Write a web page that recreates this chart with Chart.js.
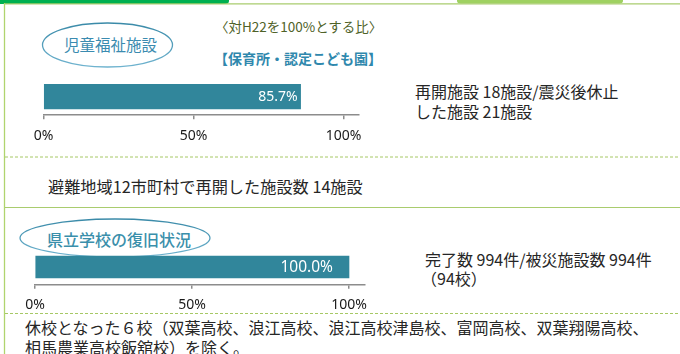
<!DOCTYPE html>
<html lang="ja">
<head>
<meta charset="utf-8">
<title>復旧状況</title>
<script src="https://cdn.jsdelivr.net/npm/chart.js@4/dist/chart.umd.min.js"></script>
<style>
  html, body { margin: 0; padding: 0; background: #ffffff; }
  body { width: 680px; height: 354px; position: relative; overflow: hidden;
         font-family: "Noto Sans CJK JP", "Noto Sans", sans-serif; color: #262626; }
  .t { position: absolute; white-space: nowrap; line-height: 1; }
  svg.frame { position: absolute; left: 0; top: 0; }
  canvas { position: absolute; }
</style>
</head>
<body>

<svg class="frame" width="680" height="354" viewBox="0 0 680 354">
  <defs>
    <linearGradient id="ring" x1="0" y1="0" x2="0" y2="1">
      <stop offset="0" stop-color="#3a8aa8"/>
      <stop offset="1" stop-color="#6fb3cf"/>
    </linearGradient>
  </defs>
  <!-- tabs and frame -->
  <path d="M0 0 H229 V1 Q229 4 225 4 H0 Z" fill="#00b050"/>
  <path d="M457 0 H623 V1 Q623 3.5 619 3.5 H461 Q457 3.5 457 1 Z" fill="#9fd161"/>
  <line x1="4.5" y1="3.8" x2="680" y2="3.8" stroke="#a9cc6e" stroke-width="1.2"/>
  <line x1="4.5" y1="3" x2="4.5" y2="354" stroke="#b0d46e" stroke-width="1.3"/>
  <!-- separators -->
  <line x1="5" y1="157" x2="680" y2="157" stroke="#a6c865" stroke-width="1" stroke-dasharray="3 2"/>
  <line x1="5" y1="207.5" x2="680" y2="207.5" stroke="#a9cc6e" stroke-width="1.2"/>
  <line x1="5" y1="313.5" x2="680" y2="313.5" stroke="#a6c865" stroke-width="1" stroke-dasharray="3 2"/>
  <!-- section badges -->
  <ellipse cx="107.5" cy="45" rx="65" ry="22" fill="none" stroke="url(#ring)" stroke-width="1.3"/>
  <ellipse cx="115" cy="238" rx="95" ry="19" fill="none" stroke="url(#ring)" stroke-width="1.3"/>
</svg>

<div class="t" style="left:64px; top:37px; font-size:15.5px; color:#3a8bb0;">児童福祉施設</div>
<div class="t" style="left:215px; top:20px; font-size:13.5px; color:#4f6228;">〈対H22を100%とする比〉</div>
<div class="t" style="left:214px; top:51px; font-size:14px; color:#2f88ad; font-weight:bold;">【保育所・認定こども園】</div>

<div class="t" style="left:415px; top:83px; font-size:16px; color:#262626;">再開施設 18施設/震災後休止</div>
<div class="t" style="left:415px; top:103px; font-size:16px; color:#262626;">した施設 21施設</div>

<div class="t" style="left:48px; top:178px; font-size:16.2px; color:#262626;">避難地域12市町村で再開した施設数 14施設</div>

<div class="t" style="left:47px; top:231px; font-size:16px; color:#3a8fab; font-weight:500;">県立学校の復旧状況</div>

<div class="t" style="left:425px; top:251px; font-size:16px; color:#262626;">完了数 994件/被災施設数 994件</div>
<div class="t" style="left:421px; top:270px; font-size:16px; color:#262626;">（94校）</div>

<div class="t" style="left:25px; top:319px; font-size:16px; color:#262626;">休校となった６校（双葉高校、浪江高校、浪江高校津島校、富岡高校、双葉翔陽高校、</div>
<div class="t" style="left:25px; top:339px; font-size:16px; color:#262626;">相馬農業高校飯舘校）を除く。</div>

<canvas id="c1" width="400" height="82" style="left:0; top:70px;"></canvas>
<canvas id="c2" width="400" height="80" style="left:0; top:240px;"></canvas>

<script>
// 児童福祉施設（保育所・認定こども園）の再開率
const nurseryLabels = ['保育所・認定こども園'];
const nurseryRates = [85.7];

// 県立学校の復旧率
const schoolLabels = ['県立学校'];
const schoolRates = [100.0];

// 目盛り
const axisTicks = [0, 50, 100];

const barColor = '#31869b';

// 棒の右端内側に値を書くプラグイン
const barValueLabel = {
  id: 'barValueLabel',
  afterDatasetsDraw(chart, args, opts) {
    const ctx = chart.ctx;
    chart.data.datasets.forEach((ds, di) => {
      const meta = chart.getDatasetMeta(di);
      meta.data.forEach((el, i) => {
        const v = ds.data[i];
        ctx.save();
        ctx.font = opts.fontSize + 'px "Noto Sans", "Noto Sans CJK JP", sans-serif';
        ctx.fillStyle = '#ffffff';
        ctx.textAlign = 'right';
        ctx.textBaseline = 'middle';
        ctx.fillText(v.toFixed(1) + '%', el.x - opts.inset, el.y + 0.5);
        ctx.restore();
      });
    });
  }
};

function makeBar(canvasId, labels, values, thickness, pad, labelOpts) {
  return new Chart(document.getElementById(canvasId), {
    type: 'bar',
    data: {
      labels: labels,
      datasets: [{
        data: values,
        backgroundColor: barColor,
        borderWidth: 0,
        barThickness: thickness
      }]
    },
    options: {
      indexAxis: 'y',
      responsive: false,
      animation: false,
      devicePixelRatio: 1,
      layout: { padding: pad },
      plugins: {
        legend: { display: false },
        tooltip: { enabled: false },
        barValueLabel: labelOpts
      },
      scales: {
        y: { display: false },
        x: {
          min: 0,
          max: 105,
          afterBuildTicks(scale) {
            scale.ticks = axisTicks.map(v => ({ value: v }));
          },
          grid: {
            display: true,
            drawOnChartArea: false,
            drawTicks: true,
            tickLength: 4,
            color: '#8c8c8c',
            lineWidth: 1.5
          },
          border: { display: true, color: '#8c8c8c', width: 1.5 },
          ticks: {
            padding: 8,
            maxRotation: 0,
            autoSkip: false,
            color: '#1a1a1a',
            font: { size: 14, family: '"Noto Sans", "Noto Sans CJK JP", sans-serif' },
            callback: v => v + '%'
          }
        }
      }
    },
    plugins: [barValueLabel]
  });
}

makeBar('c1', nurseryLabels, nurseryRates, 24.5,
  { left: 43.5, right: 41.5, top: 8, bottom: 0 },
  { inset: 3, fontSize: 14 });

makeBar('c2', schoolLabels, schoolRates, 22,
  { left: 35, right: 35.3, top: 9.3, bottom: 0 },
  { inset: 16, fontSize: 15.5 });
</script>
</body>
</html>
